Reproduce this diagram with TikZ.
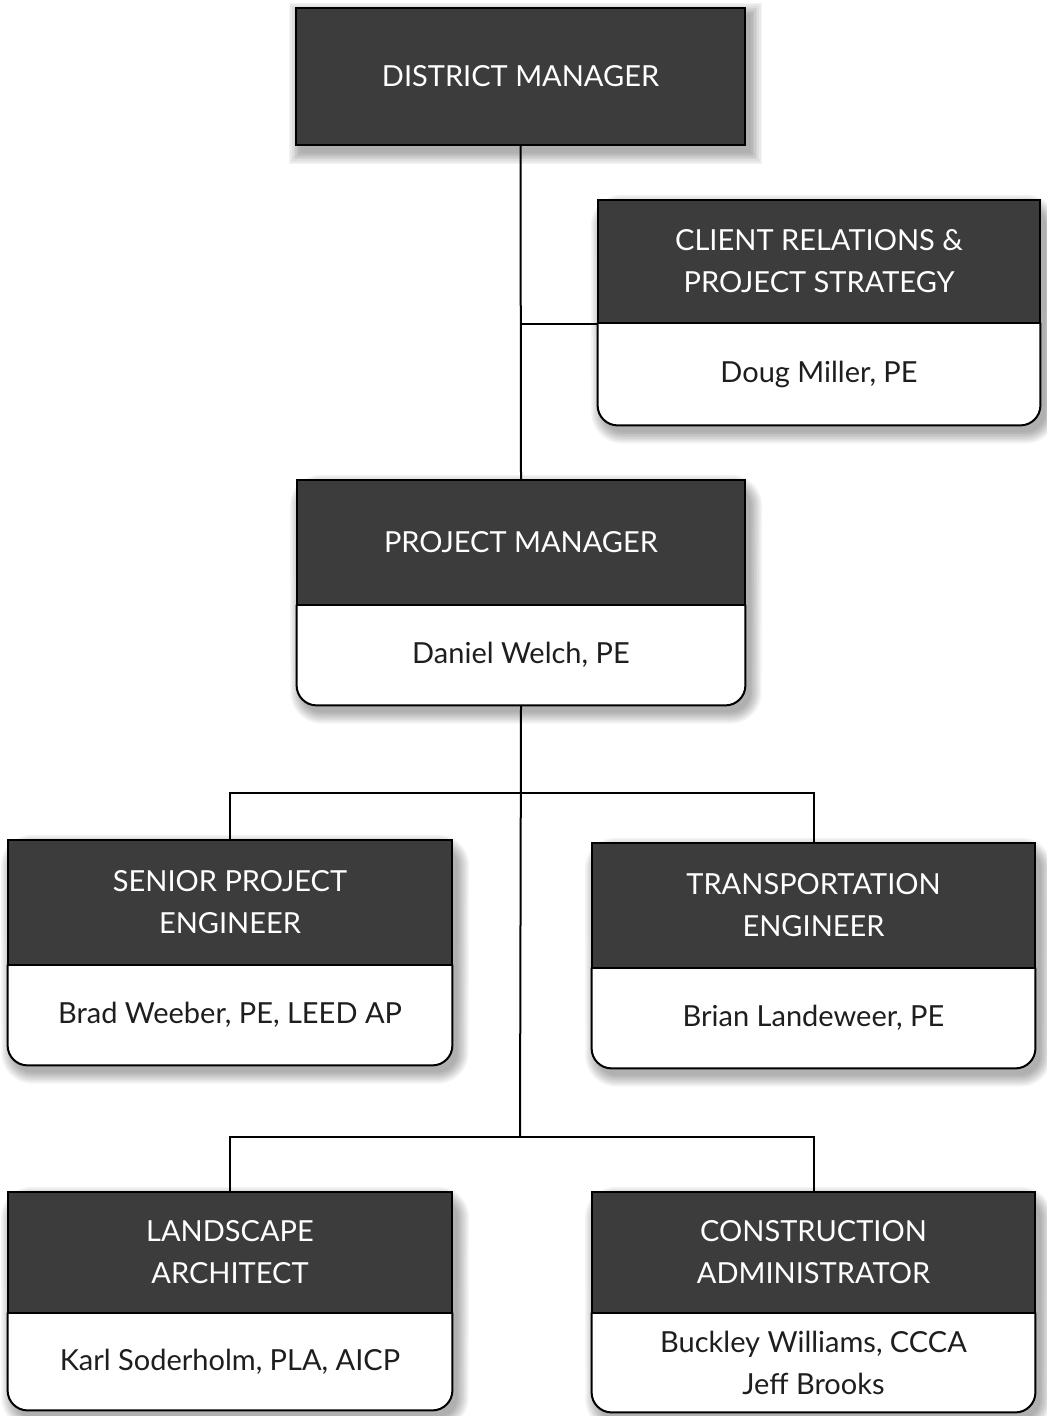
\documentclass[tikz,border=0pt]{standalone}
\usepackage{fontspec}
\setmainfont{Lato}
\pgfdeclarelayer{paper}
\pgfdeclarelayer{background}
\pgfsetlayers{paper,background,main}
\definecolor{headgray}{HTML}{3C3C3C}
\definecolor{namegray}{HTML}{1E1E1E}
\begin{document}
\begin{tikzpicture}[x=0.5pt,y=-0.5pt,
  head/.style={rectangle, fill=headgray, draw=black, line width=1pt, text=white,
    align=center, inner sep=0pt, font=\fontsize{14.5}{21}\selectfont},
  body/.style={rectangle, align=center, inner sep=0pt, text=namegray,
    font=\fontsize{14.5}{21}\selectfont},
  outline/.style={draw=black, line width=1pt, rounded corners=10pt},
  shadelayer/.style={fill=black, opacity=0.045},
  link/.style={draw=black, line width=1pt}]
\useasboundingbox (0,0) rectangle (1046,1416);
\begin{pgfonlayer}{paper}
  \fill[white] (0,0) rectangle (1046,1416);
\end{pgfonlayer}

% top of the chart
\node[head, minimum width=224.5pt, minimum height=68.5pt] (dm) at (520.5,76.5) {DISTRICT MANAGER};

\node[head, minimum width=221pt, minimum height=61.5pt] (cr-h) at (819,261.5) {CLIENT RELATIONS \&\\PROJECT STRATEGY};
\node[body, minimum width=221pt, minimum height=51pt] (cr-b) at (819,374) {Doug Miller, PE};

\node[head, minimum width=224pt, minimum height=62.5pt] (pm-h) at (521,542.5) {PROJECT MANAGER};
\node[body, minimum width=224pt, minimum height=50pt] (pm-b) at (521,655) {Daniel Welch, PE};

% team members
\node[head, minimum width=222pt, minimum height=62.5pt] (sp-h) at (230,902.5) {SENIOR PROJECT\\ENGINEER};
\node[body, minimum width=222pt, minimum height=50pt] (sp-b) at (230,1015) {Brad Weeber, PE, LEED AP};

\node[head, minimum width=221.5pt, minimum height=62.5pt] (te-h) at (813.5,905.5) {TRANSPORTATION\\ENGINEER};
\node[body, minimum width=221.5pt, minimum height=50pt] (te-b) at (813.5,1018) {Brian Landeweer, PE};

\node[head, minimum width=222pt, minimum height=60.5pt] (la-h) at (230,1252.5) {LANDSCAPE\\ARCHITECT};
\node[body, minimum width=222pt, minimum height=48.5pt] (la-b) at (230,1361.5) {Karl Soderholm, PLA, AICP};

\node[head, minimum width=221.5pt, minimum height=60.5pt] (ca-h) at (813.5,1252.5) {CONSTRUCTION\\ADMINISTRATOR};
\node[body, minimum width=221.5pt, minimum height=49.5pt] (ca-b) at (813.5,1362.5) {Buckley Williams, CCCA\\Jeff Brooks};

% soft shadows, built from stacked translucent layers, and the white cards
\begin{pgfonlayer}{background}
  \foreach \k in {0,...,7}{
    \fill[shadelayer]
      ([xshift={2.5pt-\k*0.8pt}, yshift={-3.5pt+\k*0.8pt}]dm.north west)
      rectangle ([xshift={2.5pt+\k*0.8pt}, yshift={-3.5pt-\k*0.8pt}]dm.south east);
  }
  \foreach \n in {cr,pm,sp,te,la,ca}{
    \foreach \k in {0,...,7}{
      \fill[shadelayer, rounded corners={10pt+\k*0.8pt}]
        ([xshift={2.5pt-\k*0.8pt}, yshift={-3.5pt+\k*0.8pt}]\n-h.north west)
        -- ([xshift={2.5pt-\k*0.8pt}, yshift={-3.5pt-\k*0.8pt}]\n-b.south west)
        -- ([xshift={2.5pt+\k*0.8pt}, yshift={-3.5pt-\k*0.8pt}]\n-b.south east)
        -- ([xshift={2.5pt+\k*0.8pt}, yshift={-3.5pt+\k*0.8pt}]\n-h.north east) -- cycle;
    }
    \fill[white, rounded corners=10pt] (\n-h.north west) -- (\n-b.south west)
      -- (\n-b.south east) -- (\n-h.north east) -- cycle;
  }
\end{pgfonlayer}

% body outlines, rounded at the bottom
\foreach \n in {cr,pm,sp,te,la,ca}{
  \draw[outline] (\n-b.north west) -- (\n-b.south west) -- (\n-b.south east) -- (\n-b.north east);
}

% connectors
\coordinate (busA) at (520,793);
\coordinate (busB) at (520,1137);
\draw[link] (dm.south) -- (pm-h.north);
\draw[link] (cr-h.south west) -- (cr-h.south west -| dm.south);
\draw[link] (pm-b.south) -- (busB);
\draw[link] (sp-h.north) |- (busA) -| (te-h.north);
\draw[link] (la-h.north) |- (busB) -| (ca-h.north);
\end{tikzpicture}
\end{document}
